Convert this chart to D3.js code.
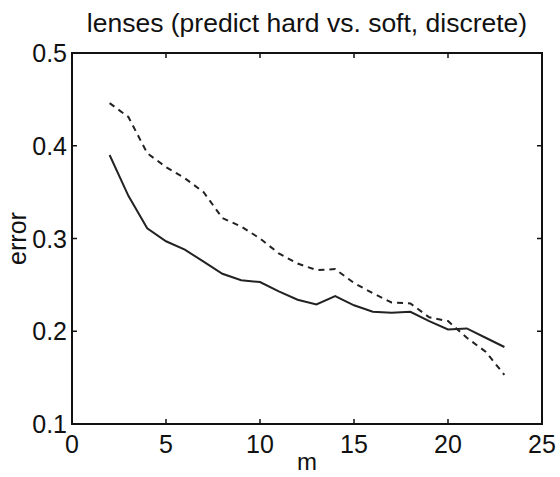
<!DOCTYPE html>
<html><head><meta charset="utf-8">
<script src="https://cdn.jsdelivr.net/npm/d3@7"></script>
<style>
html,body{margin:0;padding:0;background:#fff;}
svg{display:block;font-family:"Liberation Sans",Arial,Helvetica,sans-serif;}
</style></head>
<body>
<script>
const mValues = [2,3,4,5,6,7,8,9,10,11,12,13,14,15,16,17,18,19,20,21,22,23];
const solidSeries = [0.390,0.346,0.311,0.297,0.288,0.275,0.262,0.255,0.253,0.243,0.234,0.229,0.238,0.228,0.221,0.220,0.221,0.211,0.202,0.203,0.193,0.183];
const dashedSeries = [0.446,0.431,0.392,0.377,0.365,0.350,0.322,0.313,0.300,0.284,0.273,0.266,0.267,0.252,0.241,0.231,0.230,0.215,0.211,0.193,0.178,0.153];
const xTicks = [0,5,10,15,20,25];
const yTicks = [0.1,0.2,0.3,0.4,0.5];
const titleText = "lenses (predict hard vs. soft, discrete)";

const W=560,H=477;
const L=72,R=542,T=53,B=424;
const svg=d3.select("body").append("svg").attr("width",W).attr("height",H);
const x=d3.scaleLinear().domain([0,25]).range([L,R]);
const y=d3.scaleLinear().domain([0.1,0.5]).range([B,T]);

svg.append("rect").attr("x",L).attr("y",T).attr("width",R-L).attr("height",B-T)
  .attr("fill","none").attr("stroke","#111").attr("stroke-width",2);

const tl=5;
const xa=svg.append("g");
xTicks.forEach(t=>{
  if(t>0&&t<25){
    xa.append("line").attr("x1",x(t)).attr("x2",x(t)).attr("y1",B).attr("y2",B-tl).attr("stroke","#111").attr("stroke-width",1.5);
    xa.append("line").attr("x1",x(t)).attr("x2",x(t)).attr("y1",T).attr("y2",T+tl).attr("stroke","#111").attr("stroke-width",1.5);
  }
  xa.append("text").attr("x",x(t)).attr("y",B+29).attr("text-anchor","middle")
    .attr("font-size",25).attr("fill","#111").text(d3.format("d")(t));
});
yTicks.forEach(t=>{
  if(t>0.1&&t<0.5){
    xa.append("line").attr("x1",L).attr("x2",L+tl).attr("y1",y(t)).attr("y2",y(t)).attr("stroke","#111").attr("stroke-width",1.5);
    xa.append("line").attr("x1",R).attr("x2",R-tl).attr("y1",y(t)).attr("y2",y(t)).attr("stroke","#111").attr("stroke-width",1.5);
  }
  xa.append("text").attr("x",L-5).attr("y",y(t)+9).attr("text-anchor","end")
    .attr("font-size",25).attr("fill","#111").text(d3.format(".1f")(t));
});

const line=d3.line().x((d,i)=>x(mValues[i])).y(d=>y(d));
svg.append("path").datum(solidSeries).attr("d",line).attr("fill","none")
  .attr("stroke","#222").attr("stroke-width",2);
svg.append("path").datum(dashedSeries).attr("d",line).attr("fill","none")
  .attr("stroke","#222").attr("stroke-width",2).attr("stroke-dasharray","6,5");

svg.append("text").attr("x",(L+R)/2).attr("y",32).attr("text-anchor","middle")
  .attr("font-size",26.5).attr("fill","#111").text(titleText);
svg.append("text").attr("x",(L+R)/2).attr("y",470).attr("text-anchor","middle")
  .attr("font-size",24).attr("fill","#111").text("m");
svg.append("text").attr("transform",`translate(26,${(T+B)/2}) rotate(-90)`).attr("text-anchor","middle")
  .attr("font-size",25).attr("fill","#111").text("error");
</script>
</body></html>
